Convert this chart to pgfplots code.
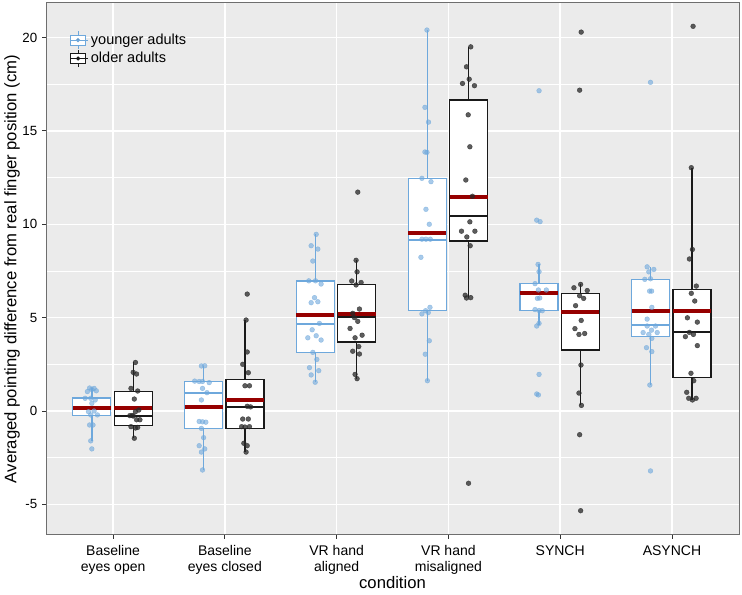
\documentclass[border=0pt]{standalone}
\usepackage{fontspec}
\setmainfont{Liberation Sans}
\usepackage{pgfplots}
\pgfplotsset{compat=1.18}
\usepgfplotslibrary{statistics}
\definecolor{ycol}{RGB}{110,168,220}
\definecolor{ocol}{RGB}{25,25,25}
\definecolor{opt}{RGB}{40,40,40}
\definecolor{meancol}{RGB}{150,0,0}
\definecolor{panel}{RGB}{235,235,235}
\definecolor{bordercol}{RGB}{110,110,110}
\definecolor{tickcol}{RGB}{51,51,51}
\pgfplotsset{
  ybox/.style={draw=ycol, fill=white, line width=0.9pt, forget plot, boxplot/draw direction=y, boxplot/box extend=0.34, boxplot/whisker extend=0, boxplot/every median/.style={line width=1.4pt}, boxplot/every whisker/.style={line width=1pt}},
  obox/.style={draw=ocol, fill=white, line width=0.9pt, forget plot, boxplot/draw direction=y, boxplot/box extend=0.34, boxplot/whisker extend=0, boxplot/every median/.style={line width=1.4pt}, boxplot/every whisker/.style={line width=1pt}},
  ypts/.style={only marks, mark=*, mark size=1.8pt, forget plot, color=ycol, line width=0.3pt, opacity=0.6},
  opts/.style={only marks, mark=*, mark size=1.8pt, forget plot, color=opt, line width=0.3pt, opacity=0.75},
  meanl/.style={draw=meancol, line width=3pt, mark=none, forget plot},
  boxkey/.style={legend image code/.code={
      \draw[fill=white] (0pt,-3.8pt) rectangle (11.5pt,3.8pt);
      \draw (5.75pt,-6.5pt) -- (5.75pt,-3.8pt) (5.75pt,3.8pt) -- (5.75pt,6.5pt) (0pt,0pt) -- (11.5pt,0pt);
      \fill (5.75pt,0pt) circle (1.1pt);
      \path (0pt,0pt) -- (13pt,0pt);}},
}
\begin{document}
\begin{tikzpicture}
\begin{axis}[
  scale only axis, width=519.75pt, height=399pt,
  xmin=0.4, xmax=6.6, ymin=-6.64, ymax=21.85,
  axis background/.style={fill=panel},
  xtick={1,2,3,4,5,6},
  xticklabels={{Baseline\\eyes open},{Baseline\\eyes closed},{VR hand\\aligned},{VR hand\\misaligned},{SYNCH},{ASYNCH}},
  xticklabel style={align=center, font=\fontsize{10.5}{12}\selectfont, yshift=-1.5pt},
  ytick={-5,0,5,10,15,20}, minor ytick={-2.5,2.5,7.5,12.5,17.5},
  yticklabel style={font=\fontsize{10}{12}\selectfont},
  grid=both, major grid style={white, line width=1.1pt}, minor grid style={white, line width=0.55pt},
  tick align=outside, tick pos=left, major tick length=3pt, minor tick length=0pt,
  tick style={draw=tickcol, line width=0.6pt},
  axis line style={draw=bordercol, line width=0.75pt},
  /pgf/number format/assume math mode=true,
  xlabel={condition}, ylabel={Averaged pointing difference from real finger position (cm)},
  xlabel style={font=\fontsize{12.5}{14}\selectfont, at={(axis description cs:0.5,-0.089)}, anchor=center},
  ylabel style={font=\fontsize{12.5}{14}\selectfont, at={(axis description cs:-0.049,0.5)}, anchor=center},
  legend style={at={(axis description cs:0.034,0.948)}, anchor=north west, draw=none, fill=none, inner sep=0pt, row sep=0pt, font=\fontsize{10.9}{13}\selectfont, cells={anchor=west}},
]
\addlegendimage{draw=ycol, line width=0.8pt, boxkey}
\addlegendentry{younger adults}
\addlegendimage{draw=ocol, line width=0.8pt, boxkey}
\addlegendentry{older adults}

% boxes, younger
\addplot[ybox, boxplot prepared={draw position=0.81, lower whisker=-1.6, lower quartile=-0.25, median=0.12, upper quartile=0.70, upper whisker=1.25}] coordinates {};
\addplot[ybox, boxplot prepared={draw position=1.81, lower whisker=-3.16, lower quartile=-0.93, median=0.95, upper quartile=1.57, upper whisker=2.41}] coordinates {};
\addplot[ybox, boxplot prepared={draw position=2.81, lower whisker=1.54, lower quartile=3.14, median=4.67, upper quartile=6.96, upper whisker=9.46}] coordinates {};
\addplot[ybox, boxplot prepared={draw position=3.81, lower whisker=1.62, lower quartile=5.39, median=9.17, upper quartile=12.44, upper whisker=20.4}] coordinates {};
\addplot[ybox, boxplot prepared={draw position=4.81, lower whisker=4.62, lower quartile=5.37, median=6.38, upper quartile=6.82, upper whisker=7.85}] coordinates {};
\addplot[ybox, boxplot prepared={draw position=5.81, lower whisker=1.39, lower quartile=4.01, median=4.60, upper quartile=7.05, upper whisker=7.72}] coordinates {};
% boxes, older
\addplot[obox, boxplot prepared={draw position=1.18, lower whisker=-1.46, lower quartile=-0.77, median=-0.25, upper quartile=1.05, upper whisker=2.6}] coordinates {};
\addplot[obox, boxplot prepared={draw position=2.18, lower whisker=-2.2, lower quartile=-0.93, median=0.23, upper quartile=1.70, upper whisker=4.87}] coordinates {};
\addplot[obox, boxplot prepared={draw position=3.18, lower whisker=1.73, lower quartile=3.69, median=5.03, upper quartile=6.76, upper whisker=8.07}] coordinates {};
\addplot[obox, boxplot prepared={draw position=4.18, lower whisker=6.07, lower quartile=9.10, median=10.46, upper quartile=16.65, upper whisker=19.5}] coordinates {};
\addplot[obox, boxplot prepared={draw position=5.18, lower whisker=0.3, lower quartile=3.27, median=5.30, upper quartile=6.28, upper whisker=6.78}] coordinates {};
\addplot[obox, boxplot prepared={draw position=6.18, lower whisker=0.59, lower quartile=1.80, median=4.21, upper quartile=6.49, upper whisker=13.03}] coordinates {};

% points, younger
\addplot[ypts] coordinates {
(0.79,1.23) (0.83,1.21) (0.81,1.15) (0.77,1.04) (0.85,1.08) (0.80,0.68) (0.75,0.68) (0.84,0.59) (0.81,0.41)
(0.78,-0.04) (0.83,0.0) (0.80,-0.21) (0.86,-0.21) (0.79,-0.75) (0.82,-0.75) (0.80,-1.6) (0.81,-2.03)
(1.79,2.41) (1.82,2.42) (1.73,1.6) (1.77,1.58) (1.80,1.58) (1.86,1.52) (1.80,1.21) (1.84,0.98) (1.79,0.59)
(1.77,-0.56) (1.80,-0.58) (1.83,-0.60) (1.79,-0.93) (1.81,-1.43) (1.77,-1.86) (1.82,-2.03) (1.79,-2.2) (1.80,-3.16)
(2.817,9.46) (2.772,8.85) (2.832,8.67) (2.787,8.03) (2.751,6.97) (2.811,6.97) (2.861,6.80) (2.802,6.07) (2.772,5.80)
(2.832,5.85) (2.846,4.69) (2.781,4.35) (2.742,3.92) (2.817,4.03) (2.861,3.80) (2.787,3.14) (2.823,2.76) (2.757,2.32)
(2.84,2.16) (2.772,1.93) (2.808,1.54)
(3.808,20.4) (3.79,16.26) (3.822,15.47) (3.79,13.87) (3.808,13.85) (3.763,12.46) (3.844,12.28) (3.799,10.8) (3.829,10.0)
(3.763,9.2) (3.799,9.2) (3.838,9.2) (3.754,8.23) (3.796,5.37) (3.835,5.55) (3.763,5.20) (3.82,5.27) (3.829,3.76)
(3.793,3.04) (3.812,1.62)
(4.811,17.15) (4.79,10.22) (4.82,10.14) (4.802,7.85) (4.811,7.46) (4.775,6.82) (4.805,6.48) (4.876,6.48) (4.796,6.03)
(4.817,6.05) (4.775,5.43) (4.811,5.38) (4.84,5.37) (4.811,4.69) (4.79,4.55) (4.811,1.96) (4.79,0.91) (4.805,0.86)
(5.808,17.6) (5.778,7.72) (5.838,7.58) (5.793,7.45) (5.808,7.08) (5.757,7.05) (5.80,6.42) (5.818,6.42) (5.82,5.55)
(5.778,4.92) (5.778,4.55) (5.853,4.55) (5.817,4.33) (5.742,4.2) (5.868,4.2) (5.793,4.1) (5.82,3.89) (5.772,3.39)
(5.82,3.18) (5.802,1.39) (5.808,-3.21)
};
% points, older
\addplot[opts] coordinates {
(1.20,2.6) (1.18,2.07) (1.21,1.98) (1.16,1.21) (1.22,1.07) (1.19,0.64) (1.20,-0.04) (1.23,0.05) (1.15,-0.25)
(1.18,-0.27) (1.17,-0.24) (1.21,-0.47) (1.24,-0.47) (1.16,-0.84) (1.20,-0.91) (1.19,-1.46) (1.22,-0.88)
(2.20,6.26) (2.19,4.87) (2.20,3.16) (2.16,2.5) (2.21,2.05) (2.18,1.35) (2.22,1.35) (2.20,0.25) (2.23,0.22)
(2.16,-0.43) (2.21,-0.43) (2.15,-0.84) (2.18,-0.86) (2.22,-0.84) (2.17,-1.73) (2.20,-1.86) (2.19,-2.2)
(3.189,11.72) (3.174,8.07) (3.183,7.45) (3.135,6.96) (3.219,6.88) (3.174,6.75) (3.144,5.23) (3.204,5.46) (3.159,5.0)
(3.189,4.8) (3.12,4.42) (3.228,4.06) (3.165,3.92) (3.198,3.45) (3.144,3.2) (3.204,3.05) (3.165,1.96) (3.183,1.73)
(4.2,19.5) (4.162,18.43) (4.186,17.77) (4.126,17.54) (4.233,17.42) (4.177,15.86) (4.192,14.15) (4.156,12.37) (4.215,11.5)
(4.192,10.13) (4.117,9.63) (4.237,9.63) (4.165,9.32) (4.195,8.85) (4.15,6.2) (4.162,6.05) (4.2,6.07) (4.18,-3.87)
(5.188,20.29) (5.174,17.18) (5.183,6.78) (5.123,6.6) (5.242,6.45) (5.174,6.17) (5.21,6.03) (5.138,5.64) (5.188,4.85)
(5.132,4.41) (5.219,4.15) (5.168,4.1) (5.186,2.46) (5.168,0.96) (5.19,0.3) (5.174,-1.27) (5.183,-5.34)
(6.189,20.6) (6.173,13.03) (6.183,8.65) (6.156,8.14) (6.218,6.69) (6.173,6.3) (6.204,5.89) (6.138,4.99) (6.227,4.76)
(6.156,4.21) (6.192,4.1) (6.12,3.98) (6.227,3.5) (6.17,2.02) (6.195,1.62) (6.132,1.0) (6.15,0.68) (6.183,0.59) (6.216,0.68)
};

% means
\addplot[meanl] coordinates {(0.64,0.15) (0.98,0.15)};
\addplot[meanl] coordinates {(1.64,0.20) (1.98,0.20)};
\addplot[meanl] coordinates {(2.64,5.14) (2.98,5.14)};
\addplot[meanl] coordinates {(3.64,9.53) (3.98,9.53)};
\addplot[meanl] coordinates {(4.64,6.33) (4.98,6.33)};
\addplot[meanl] coordinates {(5.64,5.35) (5.98,5.35)};
\addplot[meanl] coordinates {(1.01,0.16) (1.35,0.16)};
\addplot[meanl] coordinates {(2.01,0.60) (2.35,0.60)};
\addplot[meanl] coordinates {(3.01,5.21) (3.35,5.21)};
\addplot[meanl] coordinates {(4.01,11.44) (4.35,11.44)};
\addplot[meanl] coordinates {(5.01,5.28) (5.35,5.28)};
\addplot[meanl] coordinates {(6.01,5.35) (6.35,5.35)};

\coordinate (bbl) at (rel axis cs:-0.0664,-0.1128);
\coordinate (btr) at (rel axis cs:1.0043,1.0056);
\end{axis}
\pgfresetboundingbox
\path (bbl) rectangle (btr);
\end{tikzpicture}
\end{document}
